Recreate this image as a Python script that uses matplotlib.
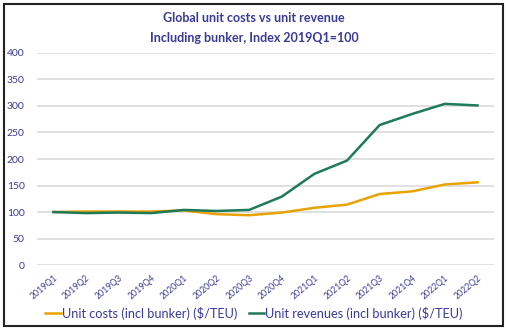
import matplotlib
matplotlib.use("Agg")
import matplotlib.pyplot as plt
from matplotlib.patches import Rectangle

quarters = ["2019Q1", "2019Q2", "2019Q3", "2019Q4", "2020Q1", "2020Q2", "2020Q3",
            "2020Q4", "2021Q1", "2021Q2", "2021Q3", "2021Q4", "2022Q1", "2022Q2"]
unit_costs = [100, 101, 101, 101, 103, 96, 94, 99, 108, 114, 134, 139, 152, 156]
unit_revenues = [100, 98, 99, 98, 104, 102, 104, 129, 172, 197, 264, 285, 304, 301]

navy = "#3A3A96"
plt.rcParams["font.family"] = ["Lato", "DejaVu Sans"]

fig = plt.figure(figsize=(5.08, 3.33), dpi=100)
ax = fig.add_axes([0.073, 0.204, 0.899, 0.637])

x = range(len(quarters))
ax.plot(x, unit_costs, color="#E8A202", lw=1.8, label="Unit costs (incl bunker) ($/TEU)")
ax.plot(x, unit_revenues, color="#1E7A58", lw=1.8, label="Unit revenues (incl bunker) ($/TEU)")

ax.set_xlim(-0.5, len(quarters) - 0.5)
ax.set_ylim(0, 400)
ax.set_yticks(range(0, 401, 50))
ax.set_xticks(list(x))
ax.set_xticklabels(quarters, rotation=40, ha="right", rotation_mode="anchor", fontsize=6.3)
ax.tick_params(axis="y", labelsize=7.5, length=0, pad=9, colors=navy)
ax.tick_params(axis="x", length=0, pad=6, colors=navy)
ax.yaxis.grid(True, color="#DDDDDD", lw=1.3)
ax.set_axisbelow(True)
for s in ax.spines.values():
    s.set_visible(False)

fig.text(0.5, 0.945, "Global unit costs vs unit revenue", ha="center", va="center",
         fontsize=9, fontweight="bold", color=navy)
fig.text(0.5, 0.887, "Including bunker, Index 2019Q1=100", ha="center", va="center",
         fontsize=9, fontweight="bold", color=navy)

leg = fig.legend(loc="center", bbox_to_anchor=(0.5, 0.06), ncol=2, frameon=False,
                 fontsize=9.2, handlelength=1.2, handletextpad=0.1, columnspacing=0.9)
for t in leg.get_texts():
    t.set_color(navy)

fig.patches.append(Rectangle((0.008, 0.02), 0.982, 0.968, transform=fig.transFigure,
                             fill=False, edgecolor="#222222", lw=1.5))

fig.savefig("out.png", dpi=100)
